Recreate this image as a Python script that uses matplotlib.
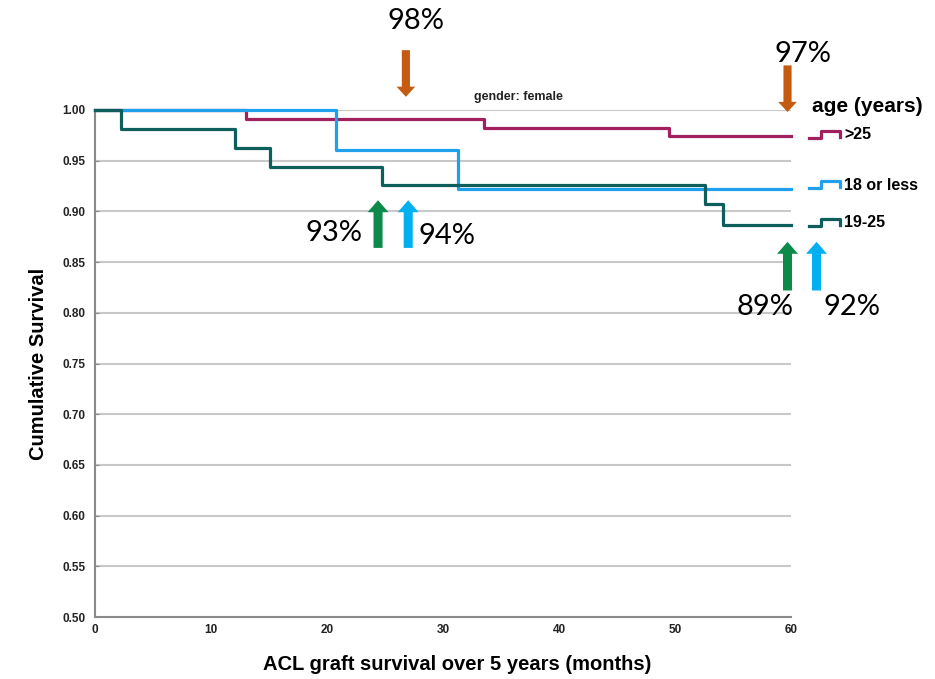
import numpy as np
import matplotlib.pyplot as plt
from matplotlib.patches import FancyArrow

plt.rcParams['font.family'] = ['Liberation Sans', 'DejaVu Sans']

# Kaplan-Meier step data (months, cumulative survival), gender: female
t_over25 = [0, 13.0, 33.5, 49.5, 60]
s_over25 = [1.000, 0.991, 0.982, 0.974, 0.974]

t_18less = [0, 20.8, 31.3, 60]
s_18less = [1.000, 0.961, 0.922, 0.922]

t_19to25 = [0, 2.2, 12.1, 15.1, 24.7, 52.6, 54.1, 60]
s_19to25 = [1.000, 0.981, 0.963, 0.944, 0.926, 0.907, 0.887, 0.887]

groups = ['>25', '18 or less', '19-25']
colors = ['#A3205E', '#1EA0EC', '#0E5F5B']

y_ticks = np.arange(0.50, 1.001, 0.05)
x_ticks = [0, 10, 20, 30, 40, 50, 60]

# highlighted survival percentages and the months they point at
notes_text = ['98%', '97%', '93%', '94%', '89%', '92%']
notes_x = [26.8, 59.7, 24.4, 27.0, 59.7, 62.2]
arrow_cols = ['#C55A11', '#C55A11', '#0B8A4A', '#00B0F0', '#0B8A4A', '#00B0F0']

fig = plt.figure(figsize=(9.35, 6.79), dpi=100)
ax = fig.add_axes([95 / 935, 1 - 617 / 679, (791 - 95) / 935, (617 - 110) / 679])

for yv in y_ticks[1:]:
    ax.axhline(yv, color='#C8C8C8', lw=1.5, zorder=1)

series = [(t_over25, s_over25), (t_18less, s_18less), (t_19to25, s_19to25)]
for i in [1, 2, 0]:
    t, s = series[i]
    ax.step(t, s, where='post', color=colors[i], lw=2.3, zorder=3 + i, clip_on=False)

ax.set_xlim(0, 60)
ax.set_ylim(0.50, 1.00)
ax.set_xticks(x_ticks)
ax.set_yticks(y_ticks)
ax.set_yticklabels([f'{v:.2f}' for v in y_ticks])
for lab in ax.get_xticklabels() + ax.get_yticklabels():
    lab.set_fontweight('bold')
    lab.set_fontsize(8.5)
    lab.set_color('#222222')
ax.tick_params(axis='y', direction='in', length=3, color='#888888', pad=7)
ax.tick_params(axis='x', length=0, pad=5)

for side in ['top', 'right']:
    ax.spines[side].set_visible(False)
for side in ['left', 'bottom']:
    ax.spines[side].set_color('#8A8A8A')
    ax.spines[side].set_linewidth(1.5)

ax.set_ylabel('Cumulative Survival', fontsize=14.5, fontweight='bold', labelpad=10)
ax.set_xlabel('ACL graft survival over 5 years (months)', fontsize=14.5, fontweight='bold')
ax.xaxis.set_label_coords(0.52, -0.075)
ax.text(36.5, 1.0128, 'gender: female', fontsize=9, fontweight='bold', ha='center',
        va='center', color='#222222')

# legend drawn as small step icons beside the plot
ax.text(61.8, 1.003, 'age (years)', fontsize=15, fontweight='bold', ha='left', va='center',
        clip_on=False)
leg_y = [0.9724, 0.923, 0.8856]
for i, g in enumerate(groups):
    y0 = leg_y[i]
    ix = [61.55, 62.6, 62.6, 64.2, 64.2]
    iy = [y0, y0, y0 + 0.0072, y0 + 0.0072, y0 + 0.001]
    ax.plot(ix, iy, color=colors[i], lw=2.3, clip_on=False)
    ax.text(64.6, y0 + 0.003, g, fontsize=11.5, fontweight='bold', ha='left', va='center',
            clip_on=False)

# annotation arrows and percentages
pct_font = dict(fontsize=21, family=['Lato', 'DejaVu Sans'], color='black')
down = [(1.059, 1.013), (1.044, 0.998)]
for k in range(2):
    y_top, y_tip = down[k]
    ax.add_patch(FancyArrow(notes_x[k], y_top, 0, y_tip - y_top, color=arrow_cols[k],
                            width=0.7, head_width=1.6, head_length=0.010,
                            length_includes_head=True, clip_on=False, lw=0, zorder=6))
ax.text(notes_x[0] + 0.9, 1.080, notes_text[0], ha='center', va='baseline', **pct_font)
ax.text(notes_x[1] + 1.3, 1.047, notes_text[1], ha='center', va='baseline', **pct_font)

for k in range(2, 6):
    if k < 4:
        y_tail, y_tip = 0.864, 0.911
    else:
        y_tail, y_tip = 0.822, 0.870
    ax.add_patch(FancyArrow(notes_x[k], y_tail, 0, y_tip - y_tail, color=arrow_cols[k],
                            width=0.78, head_width=1.8, head_length=0.0118,
                            length_includes_head=True, clip_on=False, lw=0, zorder=6))

ax.text(notes_x[2] - 1.3, 0.879, notes_text[2], ha='right', va='center', **pct_font)
ax.text(notes_x[3] + 0.9, 0.876, notes_text[3], ha='left', va='center', **pct_font)
ax.text(notes_x[4] - 1.9, 0.806, notes_text[4], ha='center', va='center', **pct_font)
ax.text(notes_x[5] + 3.1, 0.806, notes_text[5], ha='center', va='center', **pct_font)

fig.savefig('out.png', dpi=100)
